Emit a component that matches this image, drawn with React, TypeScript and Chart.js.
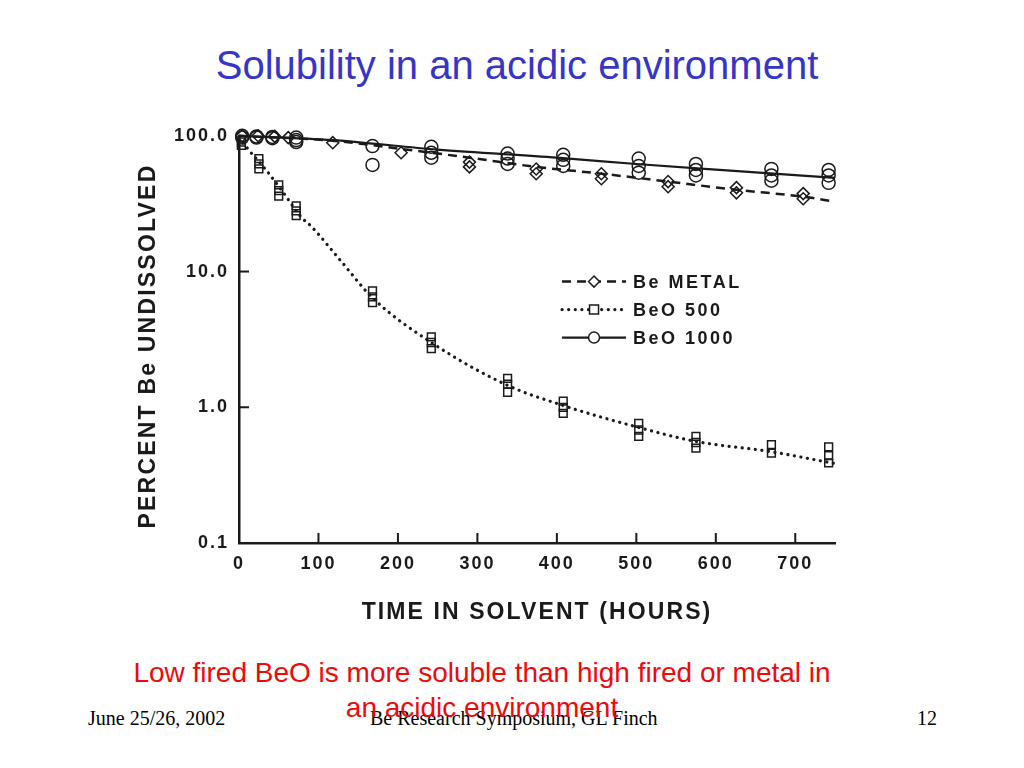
import React, { useEffect, useRef } from 'react';
import { Chart, registerables } from 'chart.js';

Chart.register(...registerables);

// ---- axis ticks ----
const xTickValues = [0, 100, 200, 300, 400, 500, 600, 700];
const yTickValues = [0.1, 1, 10, 100];
const yTickLabels = ['0.1', '1.0', '10.0', '100.0'];

const seriesNames = ['Be METAL', 'BeO 500', 'BeO 1000'];

// ---- Be METAL (diamonds, dashed fit) ----
const metalHours = [4, 24, 45, 62, 118, 204, 290, 374, 456, 540, 626, 710];
const metalRunA = [100, 100, 99, 97, 89, 75, 64, 57, 52.5, 46, 41.5, 37.5];
const metalRunB = [null, null, null, null, null, null, 59, 52.5, 48.3, 42.2, 38, 34.4];
const metalFitHours = [0, 118, 204, 290, 374, 456, 540, 626, 710, 750];
const metalFitValues = [100, 92, 80, 69, 59, 52.6, 46, 40, 35.6, 32.7];

// ---- BeO 500 (squares, dotted fit) ----
const beo500Hours = [3, 25, 50, 72, 168, 242, 338, 408, 503, 575, 670, 742];
const beo500RunA = [90, 68, 43.5, 30.5, 7.2, 3.3, 1.63, 1.11, 0.76, 0.61, 0.53, 0.51];
const beo500RunB = [85, 62, 39.5, 28, 6.5, 3.0, 1.48, 1.0, 0.68, 0.55, 0.46, 0.44];
const beo500RunC = [null, 57, 36, 25.8, 5.9, 2.7, 1.29, 0.9, 0.61, 0.5, null, 0.39];
const beo500FitHours = [0, 12, 34, 55, 79, 90, 128, 168, 242, 338, 408, 503, 575, 670, 750];
const beo500FitValues = [97, 79, 56, 38.7, 24.9, 21.8, 12, 6.4, 3.0, 1.45, 1.03, 0.71, 0.56, 0.47, 0.385];

// ---- BeO 1000 (circles, solid fit) ----
const beo1000Hours = [4, 22, 42, 72, 168, 242, 338, 408, 503, 575, 670, 742];
const beo1000RunA = [100, 99, 98, 97, 84, 83, 74, 72.5, 68, 62, 57, 56];
const beo1000RunB = [97, 97, 96, 93, 61, 75, 68, 66.5, 60, 56, 51, 51];
const beo1000RunC = [null, null, null, 90, null, 69, 62, 60, 53.5, 51, 46.7, 45];
const beo1000FitHours = [0, 118, 250, 400, 500, 600, 750];
const beo1000FitValues = [100, 93, 79, 69, 62, 56.3, 49];

const INK = '#1a1a1a';

type Pt = { x: number; y: number };
const toPoints = (hours: number[], ...runs: (number | null)[][]): Pt[] => {
  const out: Pt[] = [];
  runs.forEach((run) => {
    hours.forEach((h, i) => {
      const v = run[i];
      if (v !== null && v !== undefined) out.push({ x: h, y: v });
    });
  });
  return out;
};

const fitStyles = [
  { borderDash: [9, 6], borderWidth: 2.5, borderCapStyle: 'butt' },
  { borderDash: [0.1, 6.5], borderWidth: 3.2, borderCapStyle: 'round' },
  { borderDash: [], borderWidth: 2.2, borderCapStyle: 'butt' },
];
const markerStyles = ['rectRot', 'rect', 'circle'];
const markerRadius = [6, 5.5, 6.5];

const inwardTicks = {
  id: 'inwardTicks',
  beforeDraw(chart: any) {
    chart.ctx.letterSpacing = '2px';
  },
  afterDraw(chart: any) {
    const { ctx, chartArea, scales } = chart;
    const xs = scales.x;
    const ys = scales.y;
    ctx.save();
    ctx.strokeStyle = INK;
    ctx.lineWidth = 2;
    ctx.setLineDash([]);
    xs.ticks.forEach((t: any) => {
      if (t.value <= xs.min) return;
      const px = xs.getPixelForValue(t.value);
      ctx.beginPath();
      ctx.moveTo(px, chartArea.bottom);
      ctx.lineTo(px, chartArea.bottom - 10);
      ctx.stroke();
    });
    ys.ticks.forEach((t: any) => {
      if (t.value <= ys.min || t.value >= ys.max) return;
      const py = ys.getPixelForValue(t.value);
      ctx.beginPath();
      ctx.moveTo(chartArea.left, py);
      ctx.lineTo(chartArea.left + 10, py);
      ctx.stroke();
    });

    // inline legend
    const x0 = chartArea.left + (chartArea.right - chartArea.left) * 0.542;
    const y0 = chartArea.top + (chartArea.bottom - chartArea.top) * 0.358;
    const rowGap = 28;
    const lineLen = 64;
    ctx.letterSpacing = '2.5px';
    seriesNames.forEach((name, i) => {
      const st = fitStyles[i];
      const y = y0 + i * rowGap;
      ctx.strokeStyle = INK;
      ctx.lineWidth = st.borderWidth;
      ctx.lineCap = st.borderCapStyle;
      ctx.setLineDash(st.borderDash);
      ctx.beginPath();
      ctx.moveTo(x0, y);
      ctx.lineTo(x0 + lineLen, y);
      ctx.stroke();
      ctx.setLineDash([]);
      ctx.lineCap = 'butt';
      ctx.lineWidth = 1.5;
      ctx.fillStyle = '#ffffff';
      const cx = x0 + lineLen / 2;
      ctx.beginPath();
      if (markerStyles[i] === 'circle') {
        ctx.arc(cx, y, 5.5, 0, Math.PI * 2);
      } else if (markerStyles[i] === 'rect') {
        ctx.rect(cx - 4.5, y - 4.5, 9, 9);
      } else {
        ctx.moveTo(cx - 5.5, y);
        ctx.lineTo(cx, y - 5.5);
        ctx.lineTo(cx + 5.5, y);
        ctx.lineTo(cx, y + 5.5);
        ctx.closePath();
      }
      ctx.fill();
      ctx.stroke();
      ctx.fillStyle = INK;
      ctx.font = 'bold 18px "Liberation Sans", Arial, sans-serif';
      ctx.textBaseline = 'middle';
      ctx.textAlign = 'left';
      ctx.fillText(name, x0 + lineLen + 7, y + 1);
    });
    ctx.restore();
  },
};

export default function App() {
  const canvasRef = useRef<HTMLCanvasElement | null>(null);

  useEffect(() => {
    if (!canvasRef.current) return;
    const fitSets = [
      [metalFitHours, metalFitValues],
      [beo500FitHours, beo500FitValues],
      [beo1000FitHours, beo1000FitValues],
    ].map(([h, v], i) => ({
      label: seriesNames[i] + ' fit',
      data: toPoints(h as number[], v as number[]),
      showLine: true,
      pointRadius: 0,
      borderColor: INK,
      borderWidth: fitStyles[i].borderWidth,
      borderDash: fitStyles[i].borderDash,
      borderCapStyle: fitStyles[i].borderCapStyle,
      cubicInterpolationMode: 'monotone',
      fill: false,
      clip: false,
    }));
    const markerData = [
      toPoints(metalHours, metalRunA, metalRunB),
      toPoints(beo500Hours, beo500RunA, beo500RunB, beo500RunC),
      toPoints(beo1000Hours, beo1000RunA, beo1000RunB, beo1000RunC),
    ];
    const markerSets = markerData.map((d, i) => ({
      label: seriesNames[i],
      data: d,
      showLine: false,
      pointStyle: markerStyles[i],
      pointRadius: markerRadius[i],
      pointBorderWidth: 1.5,
      pointBorderColor: INK,
      pointBackgroundColor: 'rgba(0,0,0,0)',
      clip: false,
    }));

    const chart = new Chart(canvasRef.current, {
      type: 'scatter',
      data: { datasets: [...fitSets, ...markerSets] as any },
      options: {
        animation: false,
        responsive: true,
        maintainAspectRatio: false,
        layout: { padding: { left: 0, right: 25, top: 20, bottom: 0 } },
        plugins: {
          legend: { display: false },
          tooltip: { enabled: false },
        },
        scales: {
          x: {
            type: 'linear',
            min: 0,
            max: 750,
            afterBuildTicks: (s: any) => {
              s.ticks = xTickValues.map((v) => ({ value: v }));
            },
            afterFit: (s: any) => {
              s.height = 102;
            },
            grid: { display: false, drawTicks: false },
            border: { display: true, width: 2.5, color: INK },
            ticks: {
              padding: 10,
              color: INK,
              maxRotation: 0,
              autoSkip: false,
              font: { family: '"Liberation Sans", Arial, sans-serif', size: 18, weight: 'bold' },
              callback: (v: any) => String(v),
            },
          },
          y: {
            type: 'logarithmic',
            min: 0.1,
            max: 100,
            afterBuildTicks: (s: any) => {
              s.ticks = yTickValues.map((v) => ({ value: v }));
            },
            afterFit: (s: any) => {
              s.width = 109;
            },
            grid: { display: false, drawTicks: false },
            border: { display: true, width: 2.5, color: INK },
            ticks: {
              padding: 10,
              color: INK,
              autoSkip: false,
              font: { family: '"Liberation Sans", Arial, sans-serif', size: 18, weight: 'bold' },
              callback: (v: any) => {
                const idx = yTickValues.findIndex((t) => Math.abs(t - Number(v)) < 1e-9);
                return idx >= 0 ? yTickLabels[idx] : '';
              },
            },
          },
        },
      } as any,
      plugins: [inwardTicks as any],
    });
    return () => chart.destroy();
  }, []);

  const sans = '"Liberation Sans", Arial, Helvetica, sans-serif';
  const serif = '"Liberation Serif", "Times New Roman", serif';

  return (
    <div
      style={{
        position: 'absolute',
        left: 0,
        top: 0,
        width: 1024,
        height: 768,
        background: '#ffffff',
        overflow: 'hidden',
        fontFamily: sans,
      }}
    >
      <div
        style={{
          position: 'absolute',
          left: 0,
          top: 41,
          width: 1034,
          textAlign: 'center',
          fontSize: 40,
          lineHeight: '48px',
          color: '#3535c8',
        }}
      >
        Solubility in an acidic environment
      </div>

      <div style={{ position: 'absolute', left: 130, top: 115, width: 730, height: 530 }}>
        <canvas ref={canvasRef} />
      </div>

      <div
        style={{
          position: 'absolute',
          left: 147 - 220,
          top: 346 - 14,
          width: 440,
          height: 28,
          lineHeight: '28px',
          textAlign: 'center',
          fontSize: 23,
          fontWeight: 'bold',
          letterSpacing: '2.2px',
          color: INK,
          transform: 'rotate(-90deg)',
          whiteSpace: 'nowrap',
        }}
      >
        PERCENT Be UNDISSOLVED
      </div>

      <div
        style={{
          position: 'absolute',
          left: 237,
          top: 597,
          width: 600,
          lineHeight: '28px',
          textAlign: 'center',
          fontSize: 23,
          fontWeight: 'bold',
          letterSpacing: '2.1px',
          color: INK,
          whiteSpace: 'nowrap',
        }}
      >
        TIME IN SOLVENT (HOURS)
      </div>

      <div style={{ position: 'absolute', left: 88, top: 706, fontFamily: serif, fontSize: 20, lineHeight: '24px', color: '#000' }}>
        June 25/26, 2002
      </div>
      <div style={{ position: 'absolute', left: 370, top: 706, fontFamily: serif, fontSize: 20, lineHeight: '24px', color: '#000' }}>
        Be Research Symposium, GL Finch
      </div>
      <div style={{ position: 'absolute', left: 917, top: 706, fontFamily: serif, fontSize: 20, lineHeight: '24px', color: '#000' }}>
        12
      </div>

      <div
        style={{
          position: 'absolute',
          left: 82,
          top: 655,
          width: 800,
          textAlign: 'center',
          fontSize: 28,
          lineHeight: '35px',
          color: '#ee0a0a',
          whiteSpace: 'nowrap',
        }}
      >
        <div>Low fired BeO is more soluble than high fired or metal in</div>
        <div>an acidic environment</div>
      </div>
    </div>
  );
}
